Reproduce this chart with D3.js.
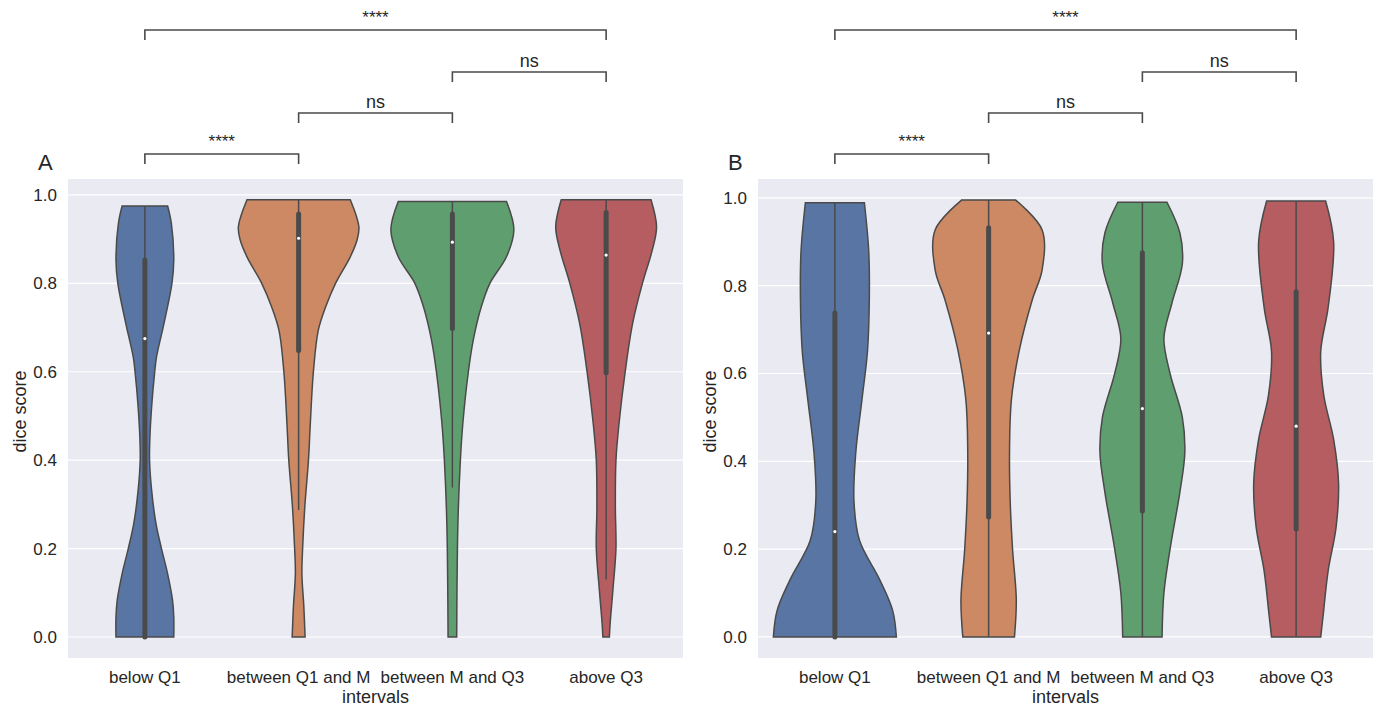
<!DOCTYPE html>
<html>
<head>
<meta charset="utf-8">
<script src="https://cdn.jsdelivr.net/npm/d3@7"></script>
<style>
  body { margin: 0; background: #fff; }
  text { font-family: "Liberation Sans", Arial, sans-serif; fill: #262626; }
</style>
</head>
<body>
<div id="chart"></div>
<script>
// categories on the x axis (same for both panels)
const categories = ["below Q1", "between Q1 and M", "between M and Q3", "above Q3"];
const colors = ["#5975a4", "#cc8963", "#5f9e6e", "#b55d60"];
const yTicks = [0.0, 0.2, 0.4, 0.6, 0.8, 1.0];

// violin outlines: dice levels and relative density (half width)
const levelsA = [
  [0.975, 0.936, 0.853, 0.8, 0.709, 0.634, 0.6, 0.521, 0.445, 0.4, 0.332, 0.257, 0.2, 0.143, 0.083, 0.045, 0],
  [0.989, 0.928, 0.898, 0.86, 0.8, 0.747, 0.694, 0.6, 0.483, 0.4, 0.294, 0.2, 0.143, 0.068, 0],
  [0.985, 0.921, 0.86, 0.8, 0.747, 0.672, 0.6, 0.483, 0.4, 0.257, 0.106, 0],
  [0.989, 0.928, 0.875, 0.8, 0.709, 0.6, 0.483, 0.4, 0.294, 0.2, 0.106, 0.03, 0]
];
const densityA = [
  [0.37, 0.43, 0.47, 0.44, 0.31, 0.19, 0.16, 0.11, 0.08, 0.076, 0.11, 0.18, 0.27, 0.37, 0.45, 0.47, 0.47],
  [0.84, 0.98, 0.95, 0.84, 0.60, 0.44, 0.32, 0.24, 0.19, 0.16, 0.10, 0.065, 0.053, 0.085, 0.105],
  [0.88, 1.0, 0.88, 0.61, 0.47, 0.34, 0.26, 0.17, 0.13, 0.09, 0.075, 0.07],
  [0.73, 0.82, 0.75, 0.59, 0.43, 0.31, 0.21, 0.16, 0.15, 0.16, 0.11, 0.065, 0.053]
];
const levelsB = [
  [0.989, 0.88, 0.77, 0.65, 0.54, 0.42, 0.31, 0.22, 0.13, 0.06, 0],
  [0.995, 0.927, 0.836, 0.768, 0.654, 0.54, 0.426, 0.312, 0.198, 0.084, 0],
  [0.99, 0.92, 0.85, 0.76, 0.68, 0.6, 0.5, 0.42, 0.33, 0.2, 0.1, 0],
  [0.993, 0.9, 0.75, 0.65, 0.55, 0.45, 0.35, 0.25, 0.15, 0.05, 0]
];
const densityB = [
  [0.48, 0.55, 0.56, 0.53, 0.44, 0.34, 0.31, 0.40, 0.73, 0.94, 1.0],
  [0.44, 0.87, 0.87, 0.71, 0.5, 0.37, 0.34, 0.35, 0.39, 0.45, 0.42],
  [0.40, 0.61, 0.65, 0.48, 0.35, 0.45, 0.65, 0.69, 0.61, 0.45, 0.35, 0.32],
  [0.48, 0.61, 0.52, 0.40, 0.45, 0.61, 0.69, 0.65, 0.52, 0.44, 0.40]
];

// inner box stats: q1, median, q3, lower whisker, upper whisker
const q1A = [0.0, 0.648, 0.698, 0.598];
const medianA = [0.675, 0.902, 0.893, 0.864];
const q3A = [0.853, 0.957, 0.957, 0.960];
const whiskLoA = [0.0, 0.287, 0.338, 0.130];
const whiskHiA = [0.975, 0.989, 0.985, 0.989];

const q1B = [0.0, 0.273, 0.287, 0.246];
const medianB = [0.24, 0.692, 0.52, 0.48];
const q3B = [0.738, 0.932, 0.875, 0.786];
const whiskLoB = [0.0, 0.0, 0.0, 0.0];
const whiskHiB = [0.989, 0.995, 0.99, 0.993];

// significance annotations: [from category, to category, label]
const pairs = [
  [0, 1, "****"],
  [1, 2, "ns"],
  [2, 3, "ns"],
  [0, 3, "****"]
];

const width = 1378, height = 706;
const svg = d3.select("#chart").append("svg")
  .attr("width", width).attr("height", height);

const lineColor = "#4a4a4a";

function drawPanel(opts) {
  const { left, top, w, h, ylim, levels, density, q1, med, q3, lo, hi, title } = opts;
  const g = svg.append("g").attr("transform", `translate(${left},${top})`);

  const x = d3.scaleBand().domain(categories).range([0, w]);
  const y = d3.scaleLinear().domain(ylim).range([h, 0]);
  const halfW = d3.scaleLinear().domain([0, 1]).range([0, x.bandwidth() * 0.4]);

  g.append("rect").attr("width", w).attr("height", h).attr("fill", "#eaeaf2");

  // grid
  g.selectAll(".grid").data(yTicks).enter().append("line")
    .attr("x1", 0).attr("x2", w)
    .attr("y1", d => y(d)).attr("y2", d => y(d))
    .attr("stroke", "#fff").attr("stroke-width", 1.2);

  // y tick labels
  g.selectAll(".ytick").data(yTicks).enter().append("text")
    .attr("x", -11).attr("y", d => y(d)).attr("dy", "0.35em")
    .attr("text-anchor", "end").attr("font-size", 17)
    .text(d => d.toFixed(1));

  // x tick labels
  g.selectAll(".xtick").data(categories).enter().append("text")
    .attr("x", d => x(d) + x.bandwidth() / 2).attr("y", h + 25)
    .attr("text-anchor", "middle").attr("font-size", 17)
    .text(d => d);

  g.append("text").attr("x", w / 2).attr("y", h + 45)
    .attr("text-anchor", "middle").attr("font-size", 18).text("intervals");

  g.append("text").attr("transform", `translate(${-42},${h / 2 - 7}) rotate(-90)`)
    .attr("text-anchor", "middle").attr("font-size", 18).text("dice score");

  g.append("text").attr("x", -30).attr("y", -9).attr("font-size", 22).text(title);

  categories.forEach((c, i) => {
    const cx = x(c) + x.bandwidth() / 2;
    const pts = levels[i].map((v, k) => ({ v: v, d: density[i][k] }));
    const area = d3.area()
      .y(p => y(p.v))
      .x0(p => cx - halfW(p.d))
      .x1(p => cx + halfW(p.d))
      .curve(d3.curveCatmullRom);
    g.append("path").attr("d", area(pts))
      .attr("fill", colors[i]).attr("stroke", lineColor).attr("stroke-width", 1.5);

    // whisker
    g.append("line").attr("x1", cx).attr("x2", cx)
      .attr("y1", y(hi[i])).attr("y2", y(lo[i]))
      .attr("stroke", lineColor).attr("stroke-width", 1.5);
    // box
    g.append("line").attr("x1", cx).attr("x2", cx)
      .attr("y1", y(q3[i])).attr("y2", y(q1[i]))
      .attr("stroke", lineColor).attr("stroke-width", 5).attr("stroke-linecap", "round");
    // median
    g.append("circle").attr("cx", cx).attr("cy", y(med[i])).attr("r", 1.6).attr("fill", "#fff");
  });

  // significance brackets
  const levelY = [-25, -66, -107, -149];
  pairs.forEach((p, k) => {
    const xa = x(categories[p[0]]) + x.bandwidth() / 2;
    const xb = x(categories[p[1]]) + x.bandwidth() / 2;
    const ly = levelY[k];
    g.append("path")
      .attr("d", `M${xa},${ly + 10}V${ly}H${xb}V${ly + 10}`)
      .attr("fill", "none").attr("stroke", lineColor).attr("stroke-width", 1.6);
    g.append("text").attr("x", (xa + xb) / 2).attr("y", ly - (p[2] === "ns" ? 5 : 7))
      .attr("text-anchor", "middle").attr("font-size", p[2] === "ns" ? 18 : 17)
      .text(p[2]);
  });
}

drawPanel({ left: 68, top: 179, w: 615, h: 479, ylim: [-0.0475, 1.036],
  levels: levelsA, density: densityA, q1: q1A, med: medianA, q3: q3A,
  lo: whiskLoA, hi: whiskHiA, title: "A" });

drawPanel({ left: 758, top: 179, w: 615, h: 479, ylim: [-0.048, 1.043],
  levels: levelsB, density: densityB, q1: q1B, med: medianB, q3: q3B,
  lo: whiskLoB, hi: whiskHiB, title: "B" });
</script>
</body>
</html>
